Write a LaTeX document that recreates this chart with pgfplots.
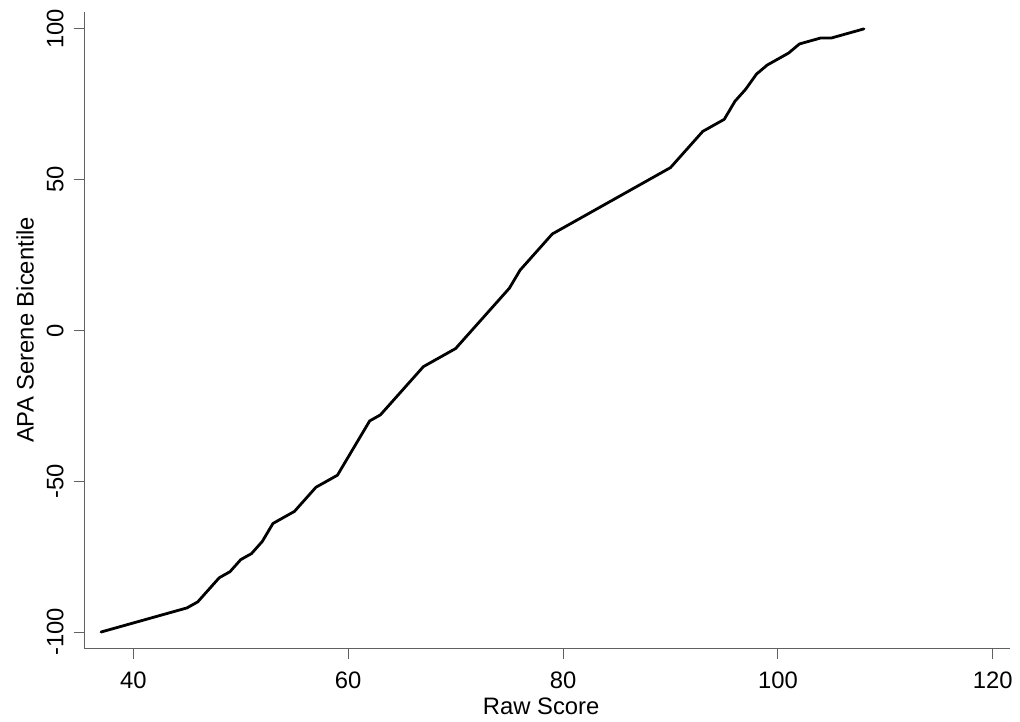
\documentclass[border=0pt]{standalone}
\usepackage{fontspec}
\setmainfont{Liberation Sans}
\usepackage{pgfplots}
\pgfplotsset{compat=1.18}
\pgfplotstableread{
x y
37 -100
38 -99
39 -98
40 -97
41 -96
42 -95
43 -94
44 -93
45 -92
46 -90
47 -86
48 -82
49 -80
50 -76
51 -74
52 -70
53 -64
54 -62
55 -60
56 -56
57 -52
58 -50
59 -48
60 -42
61 -36
62 -30
63 -28
64 -24
65 -20
66 -16
67 -12
68 -10
69 -8
70 -6
71 -2
72 2
73 6
74 10
75 14
76 20
77 24
78 28
79 32
80 34
81 36
82 38
83 40
84 42
85 44
86 46
87 48
88 50
89 52
90 54
91 58
92 62
93 66
94 68
95 70
96 76
97 80
98 85
99 88
100 90
101 92
102 95
103 96
104 97
105 97
106 98
107 99
108 100
}\datatable
\begin{document}
\begin{tikzpicture}
\begin{axis}[
  scale only axis, width=462.85pt, height=318.3pt,
  xmin=35.44, xmax=121.6, ymin=-105.4, ymax=105.7,
  axis x line*=bottom, axis y line*=left,
  xtick={40,60,80,100,120}, ytick={-100,-50,0,50,100},
  tick align=outside, major tick length=5.35pt,
  tick style={black!62, line width=0.5pt},
  axis line style={black!62, line width=0.55pt},
  ticklabel style={font=\fontsize{11.9}{14}\selectfont, text=black},
  /pgf/number format/assume math mode=true,
  xticklabel style={anchor=center, yshift=-10.85pt},
  yticklabel style={anchor=center, xshift=-9.2pt, rotate=90},
  label style={font=\fontsize{11.9}{14}\selectfont},
  xlabel={Raw Score}, ylabel={APA Serene Bicentile},
  xlabel style={at={(axis description cs:0.5,0)}, anchor=center, yshift=-28.85pt, xshift=-3pt},
  ylabel style={at={(axis description cs:0,0.5)}, anchor=center, yshift=29.65pt},
]
\addplot[black, line width=1.4pt, line join=round, line cap=round] table[x=x, y=y] {\datatable};
\end{axis}
\pgfresetboundingbox
\path[use as bounding box] ([shift={(-42.15pt,-36.35pt)}]current axis.south west) rectangle ([shift={(467.85pt,324.15pt)}]current axis.south west);
\end{tikzpicture}
\end{document}
